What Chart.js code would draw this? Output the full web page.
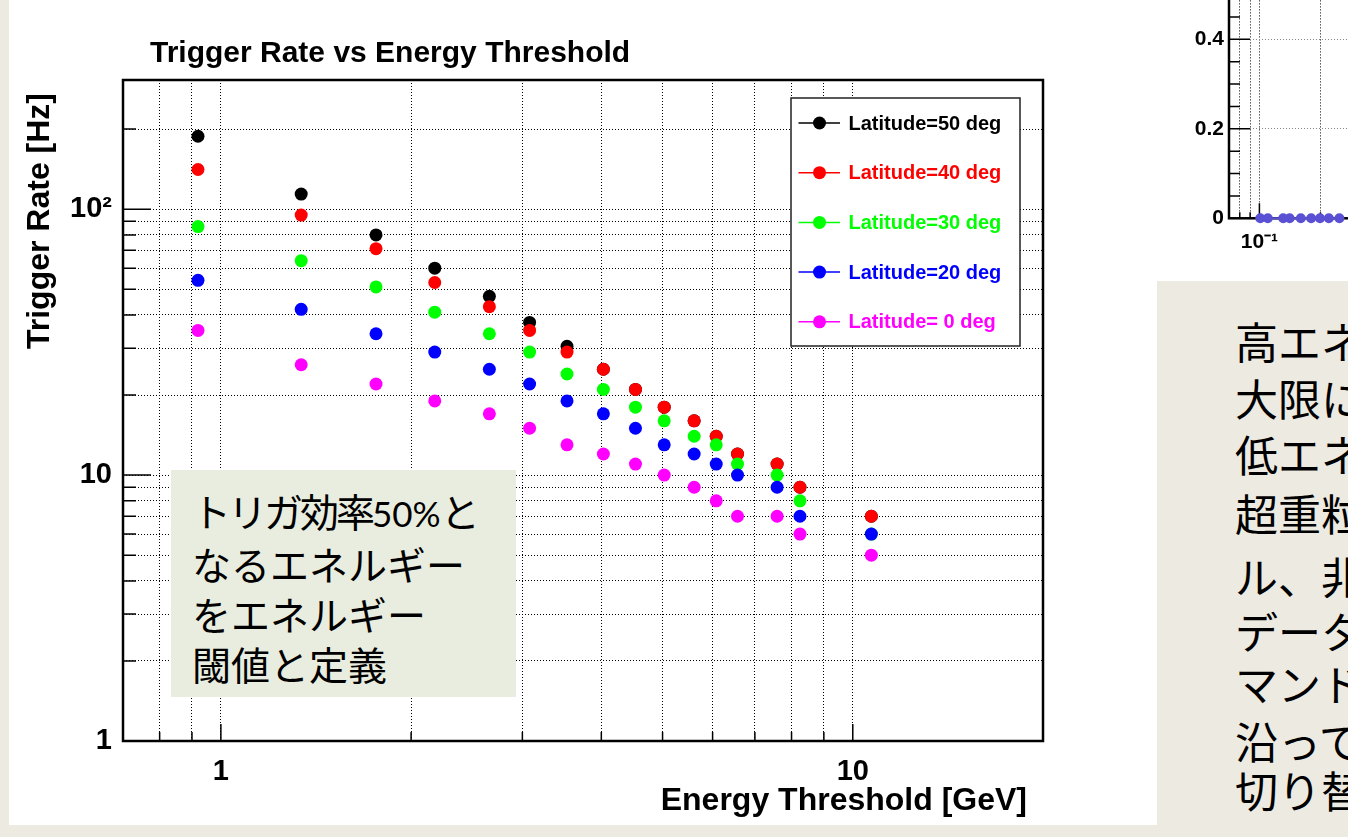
<!DOCTYPE html>
<html>
<head>
<meta charset="utf-8">
<script src="https://cdn.jsdelivr.net/npm/chart.js@4.4.1/dist/chart.umd.min.js"></script>
<style>
  html, body { margin: 0; padding: 0; }
  body { width: 1348px; height: 837px; overflow: hidden; position: relative; background: #ECEAE1; }
  #panel { position: absolute; left: 9px; top: 0; width: 1339px; height: 825px; background: #fff; }
  #mainWrap { position: absolute; left: 0; top: 0; width: 1160px; height: 837px; }
  #sideWrap { position: absolute; left: 1150px; top: -300px; width: 420px; height: 560px; }
  #note { position: absolute; left: 171px; top: 470px; width: 345px; height: 227px; background: #E9EDDF;
          font-family: "Noto Sans CJK JP", sans-serif; font-size: 39px; line-height: 50px; color: #000; }
  #note .txt { position: absolute; left: 21px; top: 15px; white-space: nowrap; }
  #note .kana { letter-spacing: -3px; }
  #note .num { font-family: Lato, "Noto Sans CJK JP", sans-serif; font-size: 35px; letter-spacing: 0; }
  #memo { position: absolute; left: 1157px; top: 281px; width: 191px; height: 556px; background: #ECEAE1; overflow: hidden;
          font-family: "Noto Sans CJK JP", sans-serif; font-size: 43px; line-height: 43px; color: #000; }
  #memo div { position: absolute; left: 78px; white-space: nowrap; }
</style>
</head>
<body>
<div id="panel"></div>
<div id="mainWrap"><canvas id="mainChart" width="1160" height="837"></canvas></div>
<div id="sideWrap"><canvas id="sideChart" width="420" height="560"></canvas></div>
<div id="note"><div class="txt"><span class="kana">トリガ効率</span><span class="num">50%</span>と<br>なるエネルギー<br>をエネルギー<br>閾値と定義</div></div>
<div id="memo">
  <div style="top:38px">高エネルギー</div>
  <div style="top:95px">大限に</div>
  <div style="top:151px">低エネルギー</div>
  <div style="top:210px">超重粒子</div>
  <div style="top:273px">ル、非</div>
  <div style="top:328px">データ</div>
  <div style="top:380px">マンド</div>
  <div style="top:438px">沿って</div>
  <div style="top:487px">切り替</div>
</div>
<script>
// trigger rate vs energy threshold
const energies = [0.92, 1.34, 1.76, 2.18, 2.66, 3.08, 3.53, 4.03, 4.53, 5.03, 5.61, 6.08, 6.57, 7.59, 8.25, 10.7];
const rateLat50 = [188, 114, 80, 60, 47, 37.5, 30.5, 25, 21, 18, 16, 14, 12, 11, 9, 7];
const rateLat40 = [141, 95, 71, 53, 43, 35, 29, 25, 21, 18, 16, 14, 12, 11, 9, 7];
const rateLat30 = [86, 64, 51, 41, 34, 29, 24, 21, 18, 16, 14, 13, 11, 10, 8, 6];
const rateLat20 = [54, 42, 34, 29, 25, 22, 19, 17, 15, 13, 12, 11, 10, 9, 7, 6];
const rateLat0 = [35, 26, 22, 19, 17, 15, 13, 12, 11, 10, 9, 8, 7, 7, 6, 5];
const seriesLabels = ['Latitude=50 deg', 'Latitude=40 deg', 'Latitude=30 deg', 'Latitude=20 deg', 'Latitude= 0 deg'];
const seriesColors = ['#000000', '#ff0000', '#00ff00', '#0000ff', '#ff00ff'];

const xGridTicks = [0.8, 0.9, 1, 2, 3, 4, 5, 6, 7, 8, 9, 10];
const xLabelTicks = [1, 10];
const xTickLabels = ['1', '10'];
const yGridTicks = [1, 2, 3, 4, 5, 6, 7, 8, 9, 10, 20, 30, 40, 50, 60, 70, 80, 90, 100, 200];
const yLabelTicks = [1, 10, 100];
const yTickLabels = ['1', '10', '10\u00b2'];

// partly visible efficiency plot on the right
const effEnergies = [0.101, 0.11, 0.131, 0.141, 0.16, 0.18, 0.199, 0.22, 0.248];
const effValues = [0, 0, 0, 0, 0, 0, 0, 0, 0];
const effGridTicks = [0.08, 0.09, 0.1, 0.2, 0.3, 0.4, 0.5, 0.6, 0.7, 0.8, 0.9, 1, 2, 3];
const effXLabelTicks = [0.1, 1];
const effXTickLabels = ['10\u207b\u00b9', '1'];
const effYLabelTicks = [0, 0.2, 0.4, 0.6, 0.8, 1];
const effYTickLabels = ['0', '0.2', '0.4', '0.6', '0.8', '1'];
const effYMinorTicks = [0.05, 0.1, 0.15, 0.25, 0.3, 0.35, 0.45, 0.5, 0.55, 0.65, 0.7, 0.75, 0.85, 0.9, 0.95, 1.05];

const rateTable = [rateLat50, rateLat40, rateLat30, rateLat20, rateLat0];
const rootFont = 'Liberation Sans, Arial, sans-serif';

function labelFor(value, where, labels) {
    const i = where.findIndex(w => Math.abs(w - value) < 1e-9);
    return i >= 0 ? labels[i] : '';
}

// ROOT style frame and inward tick marks
const rootAxes = {
    id: 'rootAxes',
    beforeDatasetsDraw(chart, args, opts) {
        const {ctx, chartArea: a, scales: {x, y}} = chart;
        ctx.save();
        ctx.strokeStyle = '#000';
        ctx.lineWidth = 1.5;
        ctx.beginPath();
        opts.xTicks.forEach(v => {
            const px = x.getPixelForValue(v);
            const len = opts.xMajor.includes(v) ? opts.xMajorLen : opts.xMinorLen;
            ctx.moveTo(px, a.bottom);
            ctx.lineTo(px, a.bottom - len);
        });
        opts.yTicks.forEach(v => {
            const py = y.getPixelForValue(v);
            const len = opts.yMajor.includes(v) ? opts.yMajorLen : opts.yMinorLen;
            ctx.moveTo(a.left, py);
            ctx.lineTo(a.left + len, py);
        });
        ctx.stroke();
        ctx.lineWidth = 2.5;
        ctx.strokeRect(a.left, a.top, a.right - a.left, a.bottom - a.top);
        ctx.restore();
    }
};

const rootLegend = {
    id: 'rootLegend',
    afterDatasetsDraw(chart, args, opts) {
        if (!opts.box) return;
        const {ctx} = chart;
        const b = opts.box;
        ctx.save();
        ctx.fillStyle = '#fff';
        ctx.fillRect(b.x, b.y, b.w, b.h);
        ctx.strokeStyle = '#222';
        ctx.lineWidth = 1.5;
        ctx.strokeRect(b.x, b.y, b.w, b.h);
        ctx.font = 'bold 20px ' + rootFont;
        ctx.textBaseline = 'middle';
        chart.data.datasets.forEach((ds, i) => {
            const cy = b.y + 25 + i * 49.7;
            ctx.strokeStyle = ds.borderColor;
            ctx.lineWidth = 1.5;
            ctx.beginPath();
            ctx.moveTo(b.x + 7.5, cy);
            ctx.lineTo(b.x + 49, cy);
            ctx.stroke();
            ctx.fillStyle = ds.backgroundColor;
            ctx.beginPath();
            ctx.arc(b.x + 28.5, cy, 6.5, 0, Math.PI * 2);
            ctx.fill();
            ctx.fillText(ds.label, b.x + 57.5, cy + 1);
        });
        ctx.restore();
    }
};

const rootTitles = {
    id: 'rootTitles',
    afterDraw(chart, args, opts) {
        const {ctx} = chart;
        (opts.items || []).forEach(it => {
            ctx.save();
            ctx.font = it.font;
            ctx.fillStyle = '#000';
            ctx.textAlign = it.align;
            ctx.textBaseline = 'middle';
            ctx.translate(it.x, it.y);
            if (it.rotate) ctx.rotate(it.rotate);
            ctx.fillText(it.text, 0, 0);
            ctx.restore();
        });
    }
};

new Chart(document.getElementById('mainChart'), {
    type: 'scatter',
    data: {
        datasets: seriesLabels.map((label, i) => ({
            label: label,
            data: energies.map((e, j) => ({x: e, y: rateTable[i][j]})),
            backgroundColor: seriesColors[i],
            borderColor: seriesColors[i],
            pointRadius: 6.5,
            pointHoverRadius: 6.5,
            pointBorderWidth: 0,
            showLine: false,
            order: seriesLabels.length - i   // later series drawn on top, like ROOT
        }))
    },
    options: {
        responsive: false,
        animation: false,
        layout: { padding: { left: 0, top: 80, right: 117, bottom: 0 } },
        scales: {
            x: {
                type: 'logarithmic', min: 0.7, max: 20,
                afterFit: s => { s.height = 96; },
                afterBuildTicks: s => { s.ticks = xGridTicks.map(v => ({value: v})); },
                ticks: {
                    autoSkip: false, maxRotation: 0, padding: 14, color: '#000',
                    font: { family: rootFont, weight: 'bold', size: 29 },
                    callback: v => labelFor(v, xLabelTicks, xTickLabels)
                },
                grid: { color: '#000', lineWidth: 1, drawTicks: false },
                border: { display: false, dash: [1, 2] }
            },
            y: {
                type: 'logarithmic', min: 1, max: 306,
                afterFit: s => { s.width = 123; },
                afterBuildTicks: s => { s.ticks = yGridTicks.map(v => ({value: v})); },
                ticks: {
                    autoSkip: false, padding: 11, color: '#000',
                    font: { family: rootFont, weight: 'bold', size: 29 },
                    callback: v => labelFor(v, yLabelTicks, yTickLabels)
                },
                grid: { color: '#000', lineWidth: 1, drawTicks: false },
                border: { display: false, dash: [1, 2] }
            }
        },
        plugins: {
            legend: { display: false },
            tooltip: { enabled: false },
            rootAxes: {
                xTicks: xGridTicks, xMajor: [1, 10], xMajorLen: 17, xMinorLen: 9,
                yTicks: yGridTicks, yMajor: [1, 10, 100], yMajorLen: 28, yMinorLen: 13
            },
            rootLegend: { box: { x: 791, y: 98, w: 229, h: 248 } },
            rootTitles: {
                items: [
                    { text: 'Trigger Rate vs Energy Threshold', font: 'bold 30px ' + rootFont, align: 'left', x: 150, y: 54 },
                    { text: 'Trigger Rate [Hz]', font: 'bold 32px ' + rootFont, align: 'right', x: 40, y: 93, rotate: -Math.PI / 2 },
                    { text: 'Energy Threshold [GeV]', font: 'bold 32px ' + rootFont, align: 'right', x: 1027, y: 801 }
                ]
            }
        }
    },
    plugins: [rootAxes, rootLegend, rootTitles]
});

new Chart(document.getElementById('sideChart'), {
    type: 'scatter',
    data: {
        datasets: [{
            label: 'efficiency',
            data: effEnergies.map((e, j) => ({x: e, y: effValues[j]})),
            backgroundColor: '#5a50d4',
            borderColor: '#5a50d4',
            borderWidth: 2,
            pointRadius: 5,
            pointBorderWidth: 0,
            showLine: true,
            clip: false
        }]
    },
    options: {
        responsive: false,
        animation: false,
        layout: { padding: { left: 0, top: 48.4, right: 0, bottom: 0 } },
        scales: {
            x: {
                type: 'logarithmic', min: 0.0708, max: 3.15,
                afterFit: s => { s.height = 41.7; },
                afterBuildTicks: s => { s.ticks = effGridTicks.map(v => ({value: v})); },
                ticks: {
                    autoSkip: false, maxRotation: 0, padding: 11, color: '#000',
                    font: { family: rootFont, weight: 'bold', size: 21 },
                    callback: v => labelFor(v, effXLabelTicks, effXTickLabels)
                },
                grid: { color: '#000', lineWidth: 1, drawTicks: false },
                border: { display: false, dash: [1, 2] }
            },
            y: {
                min: 0, max: 1.05,
                afterFit: s => { s.width = 79; },
                afterBuildTicks: s => { s.ticks = effYLabelTicks.map(v => ({value: v})); },
                ticks: {
                    autoSkip: false, padding: 5, color: '#000',
                    font: { family: rootFont, weight: 'bold', size: 21 },
                    callback: v => labelFor(v, effYLabelTicks, effYTickLabels)
                },
                grid: { color: '#888', lineWidth: 1, drawTicks: false },
                border: { display: false, dash: [1, 2] }
            }
        },
        plugins: {
            legend: { display: false },
            tooltip: { enabled: false },
            rootAxes: {
                xTicks: effGridTicks, xMajor: [0.1, 1], xMajorLen: 15, xMinorLen: 6,
                yTicks: effYLabelTicks.concat(effYMinorTicks), yMajor: effYLabelTicks, yMajorLen: 21, yMinorLen: 11
            },
            rootLegend: {},
            rootTitles: {}
        }
    },
    plugins: [rootAxes, rootLegend, rootTitles]
});
</script>
</body>
</html>
